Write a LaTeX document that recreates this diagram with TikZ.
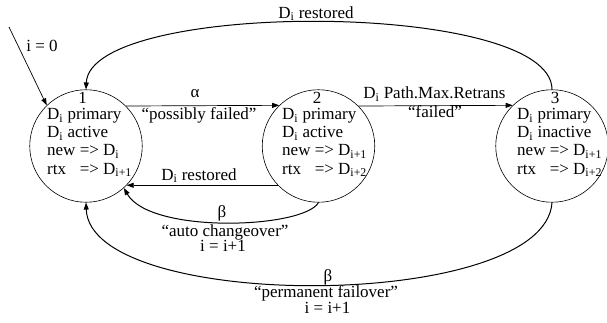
\documentclass[tikz,border=0pt]{standalone}
\usepackage{fontspec}
\setmainfont{Liberation Serif}
\usetikzlibrary{arrows.meta}
\newcommand{\Dsub}[1]{D\textsubscript{#1}}
\begin{document}
\begin{tikzpicture}[x=1pt,y=-1pt,
  state/.style={draw,circle,minimum size=112.5pt,inner sep=0pt,line width=0.6pt},
  lbl/.style={inner sep=0pt,font=\fontsize{17}{18.2}\selectfont},
  tr/.style={line width=0.7pt,-{Triangle[length=7pt,width=5pt]}},
  crv/.style={line width=1pt,-{Triangle[length=7pt,width=5pt]}},
]
\useasboundingbox (0,0) rectangle (607,323);
% states
\node[state] (c1) at (86,146) {};
\node[state] (c2) at (318.5,146) {};
\node[state] (c3) at (552,146) {};
% numbers
\node[lbl,anchor=base] (n1) at (82.5,103.5) {1};
\node[lbl,anchor=base] (n2) at (317,103.5) {2};
\node[lbl,anchor=base] (n3) at (555,103.5) {3};
% contents
\node[lbl,anchor=base west] (t1) at (47,119.5) {\begin{tabular}[t]{@{}l@{\ }l@{}}
\multicolumn{2}{@{}l@{}}{\Dsub{i} primary}\\
\multicolumn{2}{@{}l@{}}{\Dsub{i} active}\\
new & => \Dsub{i}\\
rtx & => \Dsub{i+1}
\end{tabular}};
\node[lbl,anchor=base west] (t2) at (282,119.5) {\begin{tabular}[t]{@{}l@{\ }l@{}}
\multicolumn{2}{@{}l@{}}{\Dsub{i} primary}\\
\multicolumn{2}{@{}l@{}}{\Dsub{i} active}\\
new & => \Dsub{i+1}\\
rtx & => \Dsub{i+2}
\end{tabular}};
\node[lbl,anchor=base west] (t3) at (517,119.5) {\begin{tabular}[t]{@{}l@{\ }l@{}}
\multicolumn{2}{@{}l@{}}{\Dsub{i} primary}\\
\multicolumn{2}{@{}l@{}}{\Dsub{i} inactive}\\
new & => \Dsub{i+1}\\
rtx & => \Dsub{i+2}
\end{tabular}};
% initial arrow
\coordinate (start) at (9,27);
\draw[tr] (start) -- (c1.134);
\node[lbl] (l0) at (42,46) {i = 0};
% 1 -> 2
\draw[tr] (c1.45.6) -- (c2.134.4);
\node[lbl,anchor=base] (la) at (195,98) {α};
\node[lbl,anchor=base] (lpf) at (199,120) {“possibly failed”};
% 2 -> 3
\draw[tr] (c2.45.6) -- (c3.134.4);
\node[lbl,anchor=base] (lpm) at (434.5,99) {\Dsub{i} Path.Max.Retrans};
\node[lbl,anchor=base] (lf) at (435,118) {“failed”};
% 2 -> 1 restored
\draw[tr] (c2.224) -- (c1.316);
\node[lbl,anchor=base] (lr) at (199,180) {\Dsub{i} restored};
% 3 -> 1 restored (top)
\draw[crv] (c3.90) .. controls +(0,-89.5) and +(4,-90) .. (c1.90);
\node[lbl,anchor=base] (lrt) at (316,18.3) {\Dsub{i} restored};
% 2 -> 1 auto changeover
\draw[crv] (c2.270) .. controls +(-15,26) and +(26.5,46.4) .. (c1.-48);
\node[lbl,anchor=base] (lb1) at (222,217) {β};
\node[lbl,anchor=base] (lac) at (225,236) {“auto changeover”};
\node[lbl,anchor=base] (li1) at (223,251.5) {i = i+1};
% 3 -> 1 permanent failover
\draw[crv] (c3.270) .. controls +(-7,109.5) and +(4,110) .. (c1.270);
\node[lbl,anchor=base] (lb2) at (328,281) {β};
\node[lbl,anchor=base] (lpf2) at (326,297.7) {“permanent failover”};
\node[lbl,anchor=base] (li2) at (327.5,313.3) {i = i+1};
\end{tikzpicture}
\end{document}
